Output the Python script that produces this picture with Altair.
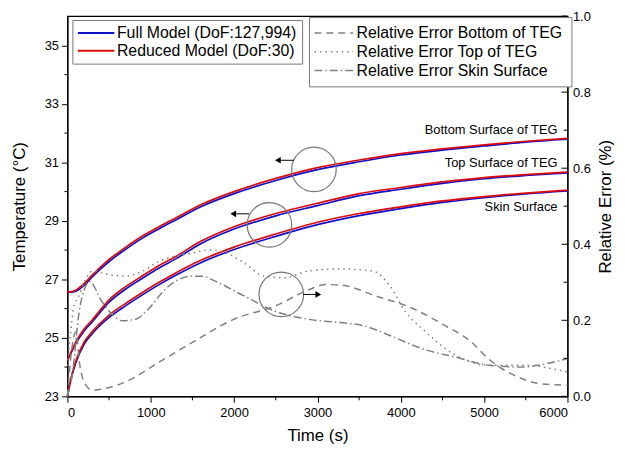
import altair as alt
import pandas as pd

FONT = "Liberation Sans"

# ---------------- data ----------------
t_temp = [0, 50, 100, 200, 300, 500, 700, 900, 1100, 1300, 1600, 2000, 2500, 3000, 3500, 4000, 4500, 5000, 5500, 6000]

bottom_red = [26.56, 26.58, 26.63, 26.85, 27.15, 27.68, 28.1, 28.48, 28.8, 29.1, 29.55, 30.0, 30.45, 30.82, 31.08, 31.3, 31.46, 31.6, 31.72, 31.82]
bottom_blue = [26.56, 26.56, 26.59, 26.79, 27.09, 27.61, 28.03, 28.41, 28.73, 29.03, 29.48, 29.93, 30.38, 30.75, 31.02, 31.25, 31.42, 31.56, 31.69, 31.79]
top_red = [24.22, 24.55, 24.85, 25.3, 25.62, 26.3, 26.75, 27.12, 27.47, 27.78, 28.3, 28.8, 29.25, 29.6, 29.93, 30.14, 30.33, 30.48, 30.58, 30.67]
top_blue = [24.22, 24.52, 24.80, 25.23, 25.55, 26.22, 26.67, 27.04, 27.39, 27.70, 28.22, 28.72, 29.17, 29.52, 29.86, 30.08, 30.28, 30.44, 30.55, 30.64]
skin_red = [23.0, 23.7, 24.2, 24.85, 25.22, 25.78, 26.18, 26.55, 26.9, 27.22, 27.65, 28.1, 28.55, 28.95, 29.25, 29.48, 29.68, 29.83, 29.95, 30.05]
skin_blue = [23.0, 23.66, 24.14, 24.78, 25.15, 25.70, 26.10, 26.47, 26.82, 27.14, 27.57, 28.02, 28.47, 28.87, 29.18, 29.42, 29.63, 29.79, 29.92, 30.02]

t_err_bottom = [0, 50, 100, 150, 220, 300, 460, 700, 1100, 1500, 2000, 2500, 2900, 3100, 3300, 3700, 4100, 4500, 4850, 5050, 5450, 5650, 6000]
err_bottom = [0.0, 0.12, 0.17, 0.08, 0.03, 0.016, 0.021, 0.038, 0.09, 0.142, 0.203, 0.238, 0.281, 0.294, 0.292, 0.264, 0.235, 0.19, 0.142, 0.099, 0.047, 0.034, 0.029]

t_err_top = [0, 40, 80, 130, 200, 300, 500, 700, 900, 1100, 1500, 1700, 1900, 2120, 2360, 2600, 2880, 3270, 3670, 3870, 4060, 4260, 4660, 5050, 5450, 6000]
err_top = [0.08, 0.17, 0.24, 0.26, 0.30, 0.329, 0.32, 0.316, 0.329, 0.355, 0.377, 0.385, 0.377, 0.351, 0.316, 0.312, 0.329, 0.335, 0.329, 0.29, 0.221, 0.177, 0.108, 0.082, 0.082, 0.064]

t_err_skin = [0, 60, 140, 220, 260, 420, 580, 660, 820, 970, 1170, 1490, 1610, 1810, 2120, 2480, 2880, 3270, 3550, 3870, 4260, 4660, 5050, 5450, 5650, 6000]
err_skin = [0.0, 0.06, 0.221, 0.29, 0.303, 0.247, 0.207, 0.199, 0.203, 0.229, 0.281, 0.316, 0.316, 0.299, 0.264, 0.225, 0.203, 0.194, 0.186, 0.16, 0.125, 0.103, 0.082, 0.077, 0.082, 0.099]

model_names = ["Full Model (DoF:127,994)", "Reduced Model (DoF:30)"]
err_names = ["Relative Error Bottom of TEG", "Relative Error Top of TEG", "Relative Error Skin Surface"]

curve_labels = ["Bottom Surface of TEG", "Top Surface of TEG", "Skin Surface"]
label_t = [5880, 5880, 5880]
label_T = [32.12, 30.96, 29.46]

circle_t = [2958, 2424]
circle_T = [30.76, 28.86]
circle_err_t = [2566]
circle_err_e = [0.268]

arrow_t1 = [2717, 2182]
arrow_t2 = [2560, 2025]
arrow_head_t = [2525, 1990]
arrow_T = [31.07, 29.24]
arrow_err_t1 = [2828]
arrow_err_t2 = [2980]
arrow_err_head_t = [3010]
arrow_err_e = [0.268]

# ---------------- tables ----------------
rows = []
for curve, blue, red in [("bottom", bottom_blue, bottom_red), ("top", top_blue, top_red), ("skin", skin_blue, skin_red)]:
    for t, b, r in zip(t_temp, blue, red):
        rows.append({"t": t, "T": b, "model": model_names[0], "curve": curve})
        rows.append({"t": t, "T": r, "model": model_names[1], "curve": curve})
temp_df = pd.DataFrame(rows)

erows = []
for name, ts, es in [(err_names[0], t_err_bottom, err_bottom), (err_names[1], t_err_top, err_top), (err_names[2], t_err_skin, err_skin)]:
    for t, e in zip(ts, es):
        erows.append({"t": t, "e": e, "series": name})
err_df = pd.DataFrame(erows)

labels_df = pd.DataFrame({"t": label_t, "T": label_T, "label": curve_labels})
circ_df = pd.DataFrame({"t": circle_t, "T": circle_T})
circ_err_df = pd.DataFrame({"t": circle_err_t, "e": circle_err_e})
arrow_df = pd.DataFrame({"t1": arrow_t1, "t2": arrow_t2, "th": arrow_head_t, "T": arrow_T})
arrow_err_df = pd.DataFrame({"t1": arrow_err_t1, "t2": arrow_err_t2, "th": arrow_err_head_t, "e": arrow_err_e})
minor_T_df = pd.DataFrame({"T": [24, 26, 28, 30, 32, 34]})
minor_t_df = pd.DataFrame({"t": [500, 1500, 2500, 3500, 4500, 5500]})
major_e_df = pd.DataFrame({"e": [0.0, 0.2, 0.4, 0.6, 0.8, 1.0]})
minor_e_df = pd.DataFrame({"e": [0.1, 0.3, 0.5, 0.7, 0.9]})

# ---------------- encodings ----------------
x_scale = alt.Scale(domain=[0, 6000], nice=False, zero=False)
x_axis = alt.Axis(values=[0, 1000, 2000, 3000, 4000, 5000, 6000], title="Time (s)",
                  tickSize=6, labelPadding=4, titlePadding=9, format="d")
T_scale = alt.Scale(domain=[23, 36], nice=False, zero=False)
T_axis = alt.Axis(values=[23, 25, 27, 29, 31, 33, 35], title="Temperature (°C)",
                  tickSize=6, labelPadding=3, titlePadding=16)
e_scale = alt.Scale(domain=[0, 1], nice=False)
e_axis = alt.Axis(orient="right", values=[0, 0.2, 0.4, 0.6, 0.8, 1.0], format=".1f",
                  title="Relative Error (%)", tickSize=0, labelPadding=5, titlePadding=7,
                  titleAngle=270, titleBaseline="top")

X = lambda f="t": alt.X(f"{f}:Q", scale=x_scale, axis=x_axis, title="Time (s)")
YT = lambda: alt.Y("T:Q", scale=T_scale, axis=T_axis, title="Temperature (°C)")
YE = lambda: alt.Y("e:Q", scale=e_scale, axis=e_axis, title="Relative Error (%)")

# wide, flat line symbol so the legend rows stay compact
LINE_SYMBOL = "M-4,0H4"

color_enc = alt.Color("model:N", scale=alt.Scale(domain=model_names, range=["#1010cc", "#dd0a0a"]),
                      legend=alt.Legend(title=None, orient="none", legendX=5, legendY=4,
                                        symbolType=LINE_SYMBOL, symbolSize=85, symbolStrokeWidth=2,
                                        symbolOffset=11, labelOffset=13, labelLimit=400,
                                        labelFontSize=16, labelFont=FONT,
                                        padding=5, rowPadding=2, strokeColor="#777777",
                                        fillColor="white"))

dash_enc = alt.StrokeDash("series:N", scale=alt.Scale(domain=err_names, range=[[7, 5], [1.5, 4], [8, 3, 1.5, 3]]),
                          legend=alt.Legend(title=None, orient="none", legendX=244, legendY=1,
                                            symbolType=LINE_SYMBOL, symbolSize=95, symbolStrokeWidth=1.5,
                                            symbolStrokeColor="#808080",
                                            symbolOffset=9, labelOffset=15, labelLimit=400,
                                            labelFontSize=16, labelFont=FONT,
                                            padding=8, rowPadding=3, strokeColor="#777777",
                                            fillColor="white"))

# ---------------- temperature group ----------------
blue_lines = alt.Chart(temp_df).transform_filter(alt.datum.model == model_names[0]).mark_line(
    strokeWidth=1.7, interpolate="monotone").encode(x=X(), y=YT(), color=color_enc, detail="curve:N")
red_lines = alt.Chart(temp_df).transform_filter(alt.datum.model == model_names[1]).mark_line(
    strokeWidth=1.7, interpolate="monotone").encode(x=X(), y=YT(), color=color_enc, detail="curve:N")
curve_text = alt.Chart(labels_df).mark_text(align="right", baseline="middle", fontSize=13, font=FONT,
                                            color="black").encode(x=X(), y=YT(), text="label:N")
circles = alt.Chart(circ_df).mark_point(shape="circle", size=2025, filled=False, color="#777777",
                                        strokeWidth=1.2, opacity=1).encode(x=X(), y=YT())
arrow_lines = alt.Chart(arrow_df).mark_rule(color="black", strokeWidth=1).encode(x=X("t1"), x2="t2:Q", y=YT())
arrow_heads = alt.Chart(arrow_df).mark_point(shape="triangle-left", size=45, filled=True, color="black",
                                             opacity=1).encode(x=X("th"), y=YT())
left_minor = alt.Chart(minor_T_df).mark_rule(color="black", strokeWidth=1).encode(
    y=YT(), x=alt.value(-3), x2=alt.value(0))
bottom_minor = alt.Chart(minor_t_df).mark_rule(color="black", strokeWidth=1).encode(
    x=X(), y=alt.value(384), y2=alt.value(388))

temp_group = alt.layer(blue_lines, red_lines, curve_text, circles, arrow_lines, arrow_heads,
                       left_minor, bottom_minor)

# ---------------- error group ----------------
err_lines = alt.Chart(err_df).mark_line(strokeWidth=1.5, interpolate="monotone", color="#808080").encode(
    x=X(), y=YE(), strokeDash=dash_enc)
circle_err = alt.Chart(circ_err_df).mark_point(shape="circle", size=2025, filled=False, color="#777777",
                                               strokeWidth=1.2, opacity=1).encode(x=X(), y=YE())
arrow_err_line = alt.Chart(arrow_err_df).mark_rule(color="black", strokeWidth=1).encode(
    x=X("t1"), x2="t2:Q", y=YE())
arrow_err_head = alt.Chart(arrow_err_df).mark_point(shape="triangle-right", size=45, filled=True,
                                                    color="black", opacity=1).encode(x=X("th"), y=YE())
right_major = alt.Chart(major_e_df).mark_rule(color="black", strokeWidth=1).encode(
    y=YE(), x=alt.value(499), x2=alt.value(505))
right_minor = alt.Chart(minor_e_df).mark_rule(color="black", strokeWidth=1).encode(
    y=YE(), x=alt.value(501), x2=alt.value(505))

err_group = alt.layer(err_lines, circle_err, arrow_err_line, arrow_err_head, right_major, right_minor)

chart = alt.layer(temp_group, err_group).resolve_scale(y="independent").properties(
    width=505, height=384,
    background="white",
    autosize=alt.AutoSizeParams(type="none"),
    padding={"left": 60, "top": 6, "right": 50, "bottom": 50},
).configure_view(stroke="black", strokeWidth=1.2).configure_axis(
    labelFont=FONT, titleFont=FONT, labelFontSize=13, titleFontSize=17, titleFontWeight="normal",
    labelColor="black", titleColor="black", domainColor="black", tickColor="black",
    domainWidth=1.2, tickWidth=1, grid=False
)

chart.save("out.html", embed_options={"renderer": "svg", "actions": False})
